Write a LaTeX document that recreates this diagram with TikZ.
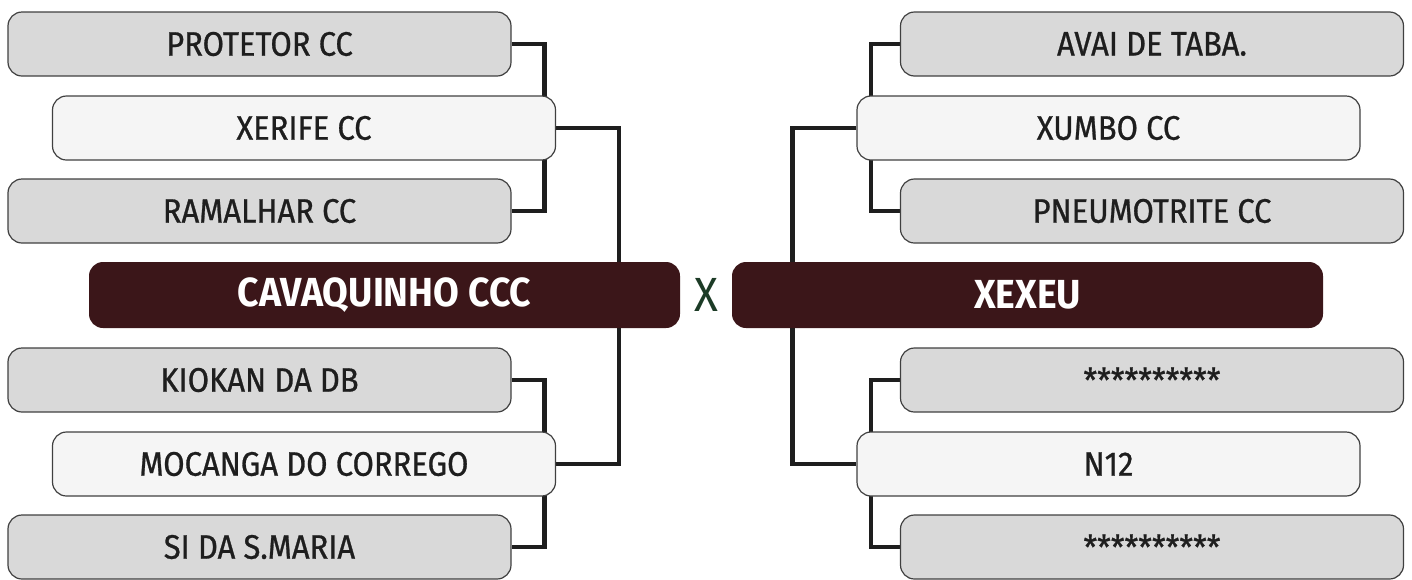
\documentclass[tikz,border=0pt]{standalone}
\usepackage{fontspec}
\setmainfont{Fira Sans}[FakeStretch=0.92]
\newfontfamily\teamfont{Fira Sans}[FakeStretch=0.91, FakeBold=0.8]
\definecolor{boxgray}{HTML}{D9D9D9}
\definecolor{boxlight}{HTML}{F5F5F5}
\definecolor{maroon}{HTML}{3B1619}
\definecolor{xgreen}{HTML}{1C3B26}
\definecolor{ink}{HTML}{1E1E1E}
\pgfdeclarelayer{bg}
\pgfsetlayers{bg,main}
\tikzset{
  team/.style={draw=ink!85, line width=0.6pt, fill=boxgray, rounded corners=7pt,
    minimum width=251.5pt, minimum height=32pt, inner sep=0pt, text=ink,
    font=\teamfont\fontsize{17}{20}\selectfont},
  seed/.style={team, fill=boxlight},
  finalbox/.style={fill=maroon, rounded corners=7pt, minimum width=295.5pt,
    minimum height=33pt, inner sep=0pt, text=white,
    font=\fontsize{20.3}{24}\selectfont\bfseries},
  link/.style={draw=ink, line width=2.2pt}
}
\begin{document}
\begin{tikzpicture}[x=0.5pt, y=-0.5pt]
\useasboundingbox (0,0) rectangle (1412,579);
% left bracket
\node[team] (PROT) at (259.5,44) {PROTETOR CC};
\node[seed] (XER) at (304,128) {XERIFE CC};
\node[team] (RAM) at (259.5,211) {RAMALHAR CC};
\node[finalbox] (CAV) at (384.5,295) {CAVAQUINHO CCC};
\node[team] (KIO) at (259.5,380) {KIOKAN DA DB};
\node[seed] (MOC) at (304,464) {MOCANGA DO CORREGO};
\node[team] (SIM) at (259.5,547) {SI DA S.MARIA};
% right bracket
\node[team] (AVAI) at (1152,44) {AVAI DE TABA.};
\node[seed] (XUM) at (1108.5,128) {XUMBO CC};
\node[team] (PNEU) at (1152,211) {PNEUMOTRITE CC};
\node[finalbox] (XEX) at (1027.5,295) {XEXEU};
\node[team] (STA) at (1152,380) {**********};
\node[seed] (N12) at (1108.5,464) {N12};
\node[team] (STB) at (1152,547) {**********};
\node[text=xgreen, font=\fontsize{24}{28}\selectfont] (VS) at (706,295) {X};
\begin{pgfonlayer}{bg}
\draw[link] (PROT.east) -- ++(33,0) |- (RAM.east);
\draw[link] (KIO.east) -- ++(33,0) |- (SIM.east);
\draw[link] (XER.east) -- ++(63,0) |- (MOC.east);
\draw[link] (AVAI.west) -- ++(-29,0) |- (PNEU.west);
\draw[link] (STA.west) -- ++(-29,0) |- (STB.west);
\draw[link] (XUM.west) -- ++(-64,0) |- (N12.west);
\end{pgfonlayer}
\end{tikzpicture}
\end{document}
